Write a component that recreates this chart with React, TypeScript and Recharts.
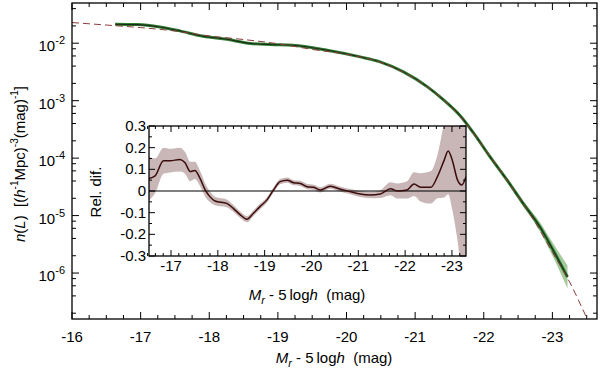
import { ComposedChart, Line, Area, XAxis, YAxis, ReferenceLine } from "recharts";

const FONT = "'Liberation Sans', Arial, Helvetica, sans-serif";

// observed luminosity function (green curve + band), n in h^3 Mpc^-3 mag^-1
const obsMag = [-16.63, -16.95, -17.28, -17.57, -17.91, -18.26, -18.6, -18.89, -19.22, -19.72, -20.2, -20.49, -20.83, -21.18, -21.41, -21.66, -21.85, -22.09, -22.34, -22.57, -22.82, -23.01, -23.22];
const obsN = [2.14e-2, 2.11e-2, 1.92e-2, 1.64e-2, 1.32e-2, 1.17e-2, 9.89e-3, 9.48e-3, 9.23e-3, 7.55e-3, 5.78e-3, 4.73e-3, 3.17e-3, 1.74e-3, 1.04e-3, 5.4e-4, 2.75e-4, 1.06e-4, 4.14e-5, 1.65e-5, 6.31e-6, 2.51e-6, 8.51e-7];
const obsErrDex = [0.02, 0.015, 0.012, 0.012, 0.01, 0.01, 0.01, 0.01, 0.01, 0.01, 0.01, 0.01, 0.01, 0.012, 0.015, 0.02, 0.025, 0.03, 0.04, 0.05, 0.08, 0.12, 0.2];

// fitted function (dashed)
const fitMag = [-16, -16.6, -17, -17.5, -18, -18.5, -19, -19.5, -20, -20.5, -21, -21.25, -21.5, -21.75, -22, -22.25, -22.5, -22.75, -23, -23.25, -23.5, -23.7];
const fitN = [2.29e-2, 2.03e-2, 1.87e-2, 1.63e-2, 1.34e-2, 1.16e-2, 9.8e-3, 7.8e-3, 6.4e-3, 4.63e-3, 2.39e-3, 1.5e-3, 8.35e-4, 3.9e-4, 1.52e-4, 5.8e-5, 2.15e-5, 7.6e-6, 2.3e-6, 7.0e-7, 1.66e-7, 5e-8];

// inset: relative difference
const relMag = [-16.53, -16.66, -16.84, -16.98, -17.19, -17.3, -17.41, -17.51, -17.62, -17.73, -17.83, -17.94, -18.19, -18.33, -18.48, -18.62, -18.76, -18.9, -19.05, -19.19, -19.33, -19.48, -19.62, -19.76, -19.91, -20.05, -20.19, -20.4, -20.62, -20.83, -21.04, -21.26, -21.47, -21.69, -21.83, -22.04, -22.19, -22.33, -22.55, -22.69, -22.83, -22.92, -23.01, -23.12, -23.21, -23.3];
const relDif = [0.058, 0.07, 0.14, 0.14, 0.145, 0.13, 0.09, 0.095, 0.058, 0.005, -0.026, -0.046, -0.057, -0.08, -0.11, -0.13, -0.103, -0.072, -0.041, 0.005, 0.043, 0.05, 0.038, 0.035, 0.02, 0.017, 0.005, 0.022, 0.008, -0.003, -0.014, -0.018, -0.014, 0.01, 0.0, 0.005, 0.032, 0.017, 0.017, 0.066, 0.14, 0.185, 0.14, 0.05, 0.028, 0.066];
const relErr = [0.1, 0.08, 0.06, 0.055, 0.055, 0.05, 0.045, 0.04, 0.035, 0.03, 0.025, 0.02, 0.018, 0.016, 0.015, 0.014, 0.013, 0.013, 0.012, 0.012, 0.012, 0.012, 0.012, 0.012, 0.012, 0.012, 0.012, 0.012, 0.012, 0.012, 0.014, 0.015, 0.018, 0.03, 0.035, 0.04, 0.055, 0.065, 0.075, 0.1, 0.17, 0.2, 0.23, 0.28, 0.4, 0.45];

const obsData = obsMag.map((m, i) => {
  const y = Math.log10(obsN[i]);
  return { m, y, band: [y - obsErrDex[i], y + obsErrDex[i]] };
});
const fitData = fitMag.map((m, i) => ({ m, y: Math.log10(fitN[i]) }));
const relData = relMag.map((m, i) => ({ m, y: relDif[i], band: [relDif[i] - relErr[i], relDif[i] + relErr[i]] }));

// tick positions
const mainXTicks: number[] = [];
for (let i = 0; i <= 30; i++) mainXTicks.push(-16 - i * 0.25);
const mainYTicks: number[] = [];
for (let e = -7; e <= -2; e++) for (const k of [1, 2, 4, 6, 8]) {
  const v = Math.log10(k) + e;
  if (v >= -6.8 && v <= -1.3) mainYTicks.push(v);
}
const insetXTicks: number[] = [];
for (let i = 3; i <= 43; i++) insetXTicks.push(-16 - i / 6);
const insetYTicks: number[] = [];
for (let i = -6; i <= 6; i++) insetYTicks.push(i * 0.05);

// plot frames (px)
const MAIN = { l: 72, t: 3, r: 597, b: 319 };
const INSET = { l: 149, t: 126, r: 466, b: 256 };

const isInt = (v: number) => Math.abs(v - Math.round(v)) < 1e-6;

const txt = { fontFamily: FONT, fill: "#000" };

// draws tick on the axis and its mirror on the opposite frame side
function makeTick(side: "x" | "y", kind: string, box: { l: number; t: number; r: number; b: number }, majLen: number, minLen: number) {
  return (props: any) => {
    const { x, y, payload } = props;
    const v = payload.value;
    const major = kind === "inY" ? isInt(v * 10) : isInt(v);
    const len = major ? majLen : minLen;
    let label = null;
    if (major) {
      if (kind === "mainX") label = <text x={x} y={y + 23} textAnchor="middle" fontSize={15} {...txt}>{Math.round(v)}</text>;
      if (kind === "inX") label = <text x={x} y={y + 15} textAnchor="middle" fontSize={15} {...txt}>{Math.round(v)}</text>;
      if (kind === "mainY") label = (
        <text x={x - 7} y={y + 8} textAnchor="end" fontSize={15} {...txt}>
          10<tspan dy={-7} fontSize={11}>{Math.round(v)}</tspan>
        </text>
      );
      if (kind === "inY") label = <text x={x - 3} y={y + 5} textAnchor="end" fontSize={15} {...txt}>{Math.abs(v) < 1e-6 ? "0" : v.toFixed(1)}</text>;
    }
    if (side === "x") {
      return (
        <g>
          <line x1={x} x2={x} y1={y} y2={y - len} stroke="#000" />
          <line x1={x} x2={x} y1={box.t} y2={box.t + len} stroke="#000" />
          {label}
        </g>
      );
    }
    return (
      <g>
        <line x1={x} x2={x + len} y1={y} y2={y} stroke="#000" />
        <line x1={box.r} x2={box.r - len} y1={y} y2={y} stroke="#000" />
        {label}
      </g>
    );
  };
}

const axisCommon = { tickLine: false, tickSize: 0, tickMargin: 0, interval: 0 as const, axisLine: false };

export default function App() {
  return (
    <div style={{ position: "absolute", left: 0, top: 0, width: 600, height: 370, background: "#fff" }}>
      <div style={{ position: "absolute", left: 0, top: 0 }}>
        <ComposedChart width={600} height={370} margin={{ top: MAIN.t, right: 600 - MAIN.r, bottom: 0, left: 0 }}>
          <XAxis type="number" dataKey="m" domain={[-23.65, -16]} reversed allowDataOverflow ticks={mainXTicks} height={370 - MAIN.b} tick={makeTick("x", "mainX", MAIN, 7, 4)} {...axisCommon} />
          <YAxis type="number" domain={[-6.8, -1.3]} allowDataOverflow ticks={mainYTicks} width={MAIN.l} tick={makeTick("y", "mainY", MAIN, 7, 4)} {...axisCommon} />
          <Area data={obsData} dataKey="band" type="monotone" stroke="none" fill="#a3c99c" fillOpacity={1} isAnimationActive={false} />
          <Line data={obsData} dataKey="y" type="monotone" stroke="#2f7f2f" strokeWidth={3} dot={false} isAnimationActive={false} />
          <Line data={obsData} dataKey="y" type="monotone" stroke="#1d2b1d" strokeWidth={1.1} dot={false} isAnimationActive={false} />
          <Line data={fitData} dataKey="y" type="monotone" stroke="#8c3b3b" strokeWidth={1} strokeDasharray="7 4" dot={false} isAnimationActive={false} />
        </ComposedChart>
      </div>

      <div style={{ position: "absolute", left: 80, top: 110 }}>
        <ComposedChart width={400} height={200} margin={{ top: INSET.t - 110, right: 480 - INSET.r, bottom: 0, left: 0 }}>
          <XAxis type="number" dataKey="m" domain={[-23.3, -16.53]} reversed allowDataOverflow ticks={insetXTicks} height={310 - INSET.b} tick={makeTick("x", "inX", { l: INSET.l - 80, t: INSET.t - 110, r: INSET.r - 80, b: INSET.b - 110 }, 6, 3)} {...axisCommon} />
          <YAxis type="number" domain={[-0.3, 0.3]} allowDataOverflow ticks={insetYTicks} width={INSET.l - 80} tick={makeTick("y", "inY", { l: INSET.l - 80, t: INSET.t - 110, r: INSET.r - 80, b: INSET.b - 110 }, 6, 3)} {...axisCommon} />
          <Area data={relData} dataKey="band" type="monotone" stroke="none" fill="#c9b6b6" fillOpacity={1} isAnimationActive={false} />
          <ReferenceLine y={0} stroke="#000" strokeWidth={1.2} />
          <Line data={relData} dataKey="y" type="monotone" stroke="#3a0c0c" strokeWidth={1.5} dot={false} isAnimationActive={false} />
        </ComposedChart>
      </div>

      <svg width={600} height={370} style={{ position: "absolute", left: 0, top: 0, pointerEvents: "none" }}>
        <rect x={MAIN.l} y={MAIN.t} width={MAIN.r - MAIN.l} height={MAIN.b - MAIN.t} fill="none" stroke="#000" strokeWidth={1.3} />
        <rect x={INSET.l} y={INSET.t} width={INSET.r - INSET.l} height={INSET.b - INSET.t} fill="none" stroke="#000" strokeWidth={1.3} />
        <text x={334} y={363} textAnchor="middle" fontSize={15} {...txt}>
          <tspan fontStyle="italic">M</tspan><tspan fontStyle="italic" fontSize={11} dy={4}>r</tspan><tspan dy={-4}>{"\u00a0- 5\u2009log"}</tspan><tspan fontStyle="italic">h</tspan>{"\u00a0\u00a0(mag)"}
        </text>
        <text x={307} y={300} textAnchor="middle" fontSize={15} {...txt}>
          <tspan fontStyle="italic">M</tspan><tspan fontStyle="italic" fontSize={11} dy={4}>r</tspan><tspan dy={-4}>{"\u00a0- 5\u2009log"}</tspan><tspan fontStyle="italic">h</tspan>{"\u00a0\u00a0(mag)"}
        </text>
        <text x={101} y={192} textAnchor="middle" fontSize={15} transform="rotate(-90 101 192)" {...txt}>Rel. dif.</text>
        <text x={25} y={164} textAnchor="middle" fontSize={15} transform="rotate(-90 25 164)" {...txt}>
          <tspan fontStyle="italic">n</tspan>(<tspan fontStyle="italic">L</tspan>){"\u00a0\u00a0[("}<tspan fontStyle="italic">h</tspan><tspan fontSize={10} dy={-7}>-1</tspan><tspan dy={7}>Mpc)</tspan><tspan fontSize={10} dy={-7}>-3</tspan><tspan dy={7}>(mag)</tspan><tspan fontSize={10} dy={-7}>-1</tspan><tspan dy={7}>]</tspan>
        </text>
      </svg>
    </div>
  );
}
